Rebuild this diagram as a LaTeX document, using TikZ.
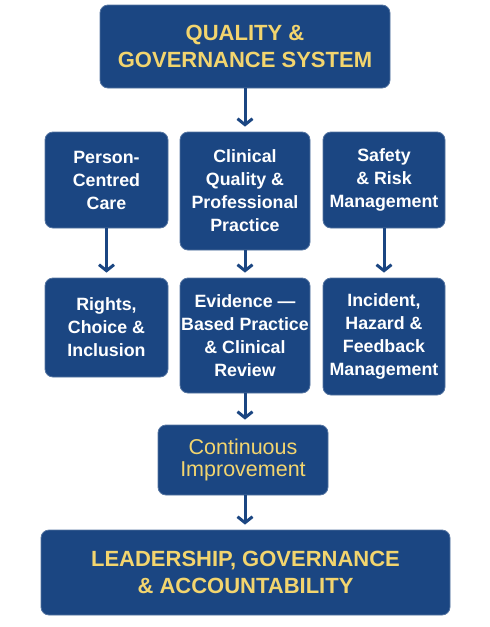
\documentclass[tikz,border=0pt]{standalone}
\usepackage{fontspec}
\setmainfont{Liberation Sans}
\usetikzlibrary{arrows.meta}
\definecolor{navy}{HTML}{1B4682}
\definecolor{gold}{HTML}{F3D56E}

\begin{document}
\begin{tikzpicture}[x=1pt, y=-1pt,
        box/.style = {draw=navy!75!white, line width=0.8pt, fill=navy, rounded corners=8pt, align=center, inner sep=0pt},
        head/.style = {box, text=gold, font=\fontsize{22}{26.5}\selectfont\bfseries},
        main/.style = {box, text=white, font=\fontsize{17.8}{23}\selectfont\bfseries},
        link/.style = {draw=navy, line width=3pt, -{Straight Barb[length=6pt,width=15pt]}, shorten >=5pt}]
            \useasboundingbox (0,0) rectangle (490,627);

            \node[head, minimum width=290pt, minimum height=83pt] (QGS) at (245,46.5) {QUALITY \&\\GOVERNANCE SYSTEM};

            \node[main, minimum width=123pt, minimum height=96pt] (PCC) at (106.5,180) {Person-\\Centred\\Care};
            \node[main, minimum width=130pt, minimum height=118pt] (CQP) at (245,191) {Clinical\\Quality \&\\Professional\\Practice};
            \node[main, minimum width=122pt, minimum height=96pt] (SRM) at (384,180) {Safety\\\& Risk\\Management};

            \node[main, minimum width=123pt, minimum height=99pt] (RCI) at (106.5,327.5) {Rights,\\Choice \&\\Inclusion};
            \node[main, minimum width=130pt, minimum height=115pt] (EBP) at (245,335.5) {Evidence —\\Based Practice\\\& Clinical\\Review};
            \node[main, minimum width=122pt, minimum height=117pt] (IHF) at (384,336.5) {Incident,\\Hazard \&\\Feedback\\Management};

            \node[box, text=gold, font=\fontsize{21.5}{22.5}\selectfont, minimum width=170pt, minimum height=70pt] (CI) at (243,460) {Continuous\\Improvement};

            \node[head, minimum width=409pt, minimum height=85pt] (LGA) at (245.5,572.5) {LEADERSHIP, GOVERNANCE\\\& ACCOUNTABILITY};

            \path[link] (QGS) -- (QGS |- CQP.north);
            \path[link] (PCC) -- (RCI);
            \path[link] (CQP) -- (EBP);
            \path[link] (SRM) -- (IHF);
            \path[link] (EBP) -- (EBP |- CI.north);
            \path[link] (CI.south -| EBP) -- (EBP |- LGA.north);
        \end{tikzpicture}
\end{document}
